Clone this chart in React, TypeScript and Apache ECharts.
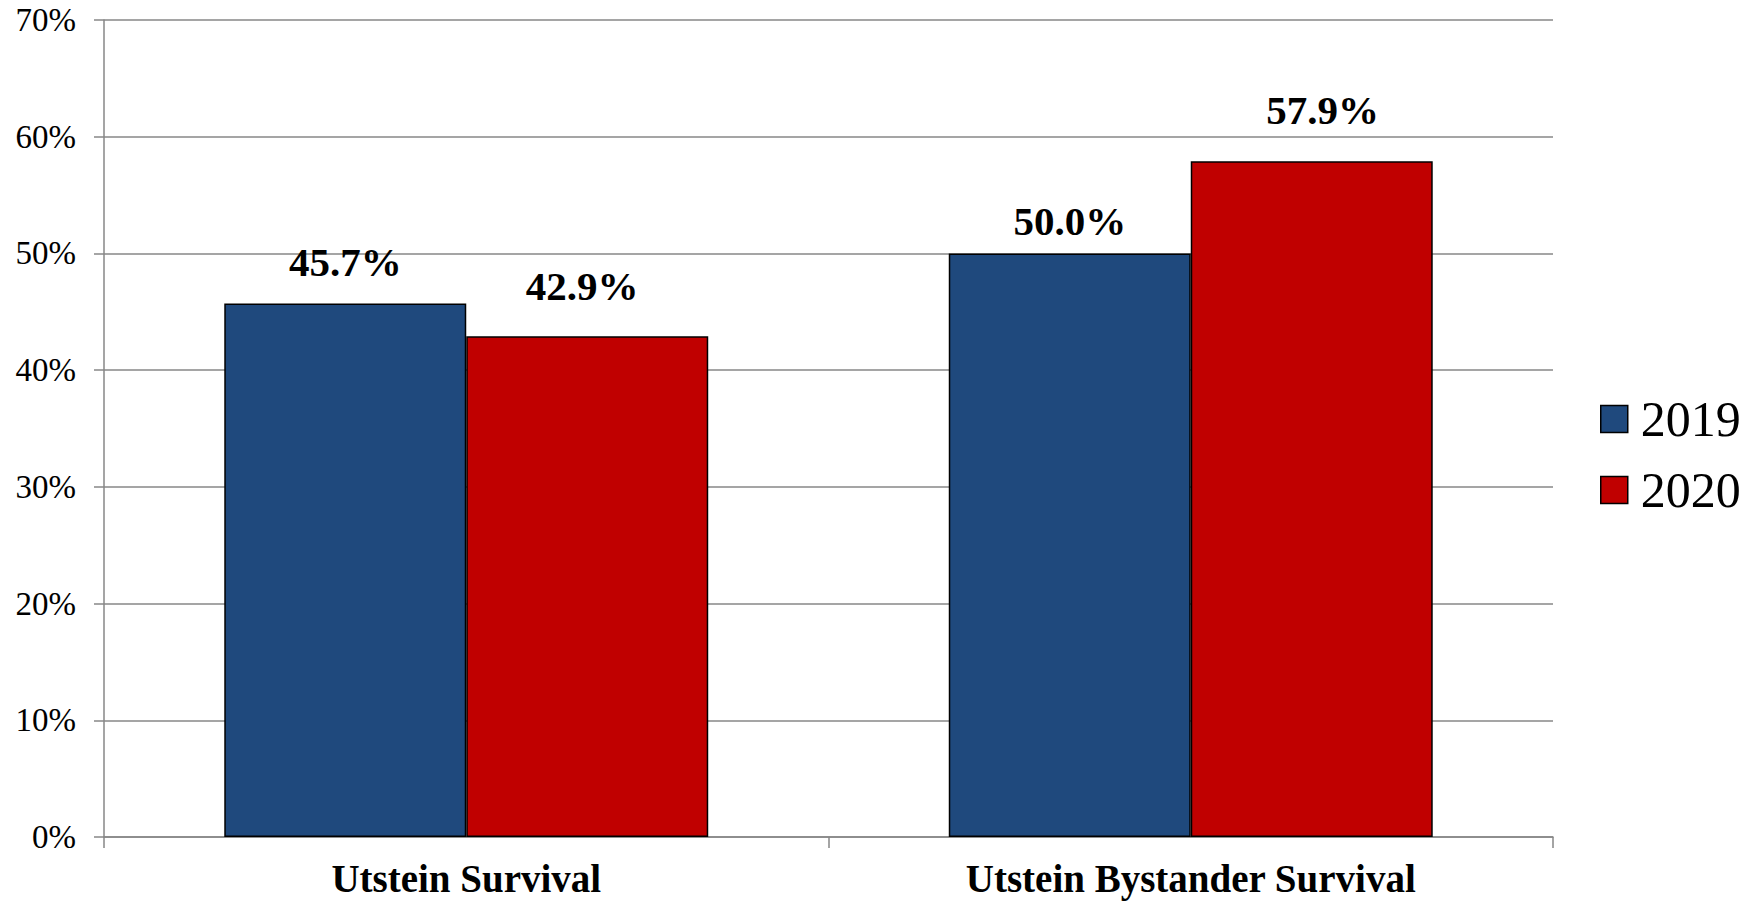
import React, { useEffect, useRef } from "react";
import * as echarts from "echarts";

const categories = ["Utstein Survival", "Utstein Bystander Survival"];
const years = ["2019", "2020"];
const values2019 = [45.7, 50.0];
const values2020 = [42.9, 57.9];
const yTicks = [0, 10, 20, 30, 40, 50, 60, 70];

const FONT = "'Liberation Serif', 'Times New Roman', serif";
const GRID_GREY = "#878787";
const COLORS = ["#1F497D", "#C00000"];

// hand-placed nudges for each value label, [series][category] -> [dx, dy]
const LABEL_NUDGE: number[][][] = [
  [[0, -7], [0, 2]],
  [[-5, -16], [11, -17]],
];

export default function App() {
  const ref = useRef<HTMLDivElement>(null);

  useEffect(() => {
    if (!ref.current) return;
    const chart = echarts.init(ref.current, undefined, { renderer: "svg" });

    const seriesData = [values2019, values2020];

    chart.setOption({
      animation: false,
      backgroundColor: "#ffffff",
      grid: { left: 104, right: 206, top: 20, bottom: 67, containLabel: false },
      legend: {
        orient: "vertical",
        left: 1595,
        top: 389,
        itemWidth: 27,
        itemHeight: 27,
        itemGap: 21,
        icon: "rect",
        data: years,
        textStyle: {
          fontFamily: FONT,
          fontSize: 50,
          lineHeight: 50,
          color: "#000",
          padding: [0, 0, 0, 8],
        },
        itemStyle: { borderColor: "#000", borderWidth: 1.5 },
      },
      xAxis: {
        type: "category",
        data: categories,
        axisLine: { lineStyle: { color: GRID_GREY, width: 1.5 } },
        axisTick: { show: true, length: 11, lineStyle: { color: GRID_GREY, width: 1.5 } },
        axisLabel: {
          fontFamily: FONT,
          fontWeight: "bold",
          fontSize: 39,
          lineHeight: 39,
          color: "#000",
          margin: 22,
        },
      },
      yAxis: {
        type: "value",
        min: yTicks[0],
        max: yTicks[yTicks.length - 1],
        interval: 10,
        axisLine: { show: true, lineStyle: { color: GRID_GREY, width: 1.5 } },
        axisTick: { show: true, length: 10, lineStyle: { color: GRID_GREY, width: 1.5 } },
        splitLine: { show: true, lineStyle: { color: GRID_GREY, width: 1.5 } },
        axisLabel: {
          fontFamily: FONT,
          fontSize: 33,
          color: "#000",
          margin: 28,
          formatter: (v: number) => `${v}%`,
        },
      },
      series: years.map((y, i) => ({
        name: y,
        type: "bar",
        data: seriesData[i].map((v, j) => ({
          value: v,
          label: { offset: LABEL_NUDGE[i][j] },
        })),
        barGap: "0%",
        barCategoryGap: "33.2%",
        itemStyle: { color: COLORS[i], borderColor: "#000", borderWidth: 1.5 },
        label: {
          show: true,
          position: "top",
          distance: 14,
          fontFamily: FONT,
          fontWeight: "bold",
          fontSize: 41,
          color: "#000",
          formatter: (p: any) => `${Number(p.value).toFixed(1)}%`,
        },
      })),
    });

    return () => chart.dispose();
  }, []);

  return (
    <div
      ref={ref}
      style={{ position: "fixed", left: 0, top: 0, width: 1759, height: 904 }}
    />
  );
}
